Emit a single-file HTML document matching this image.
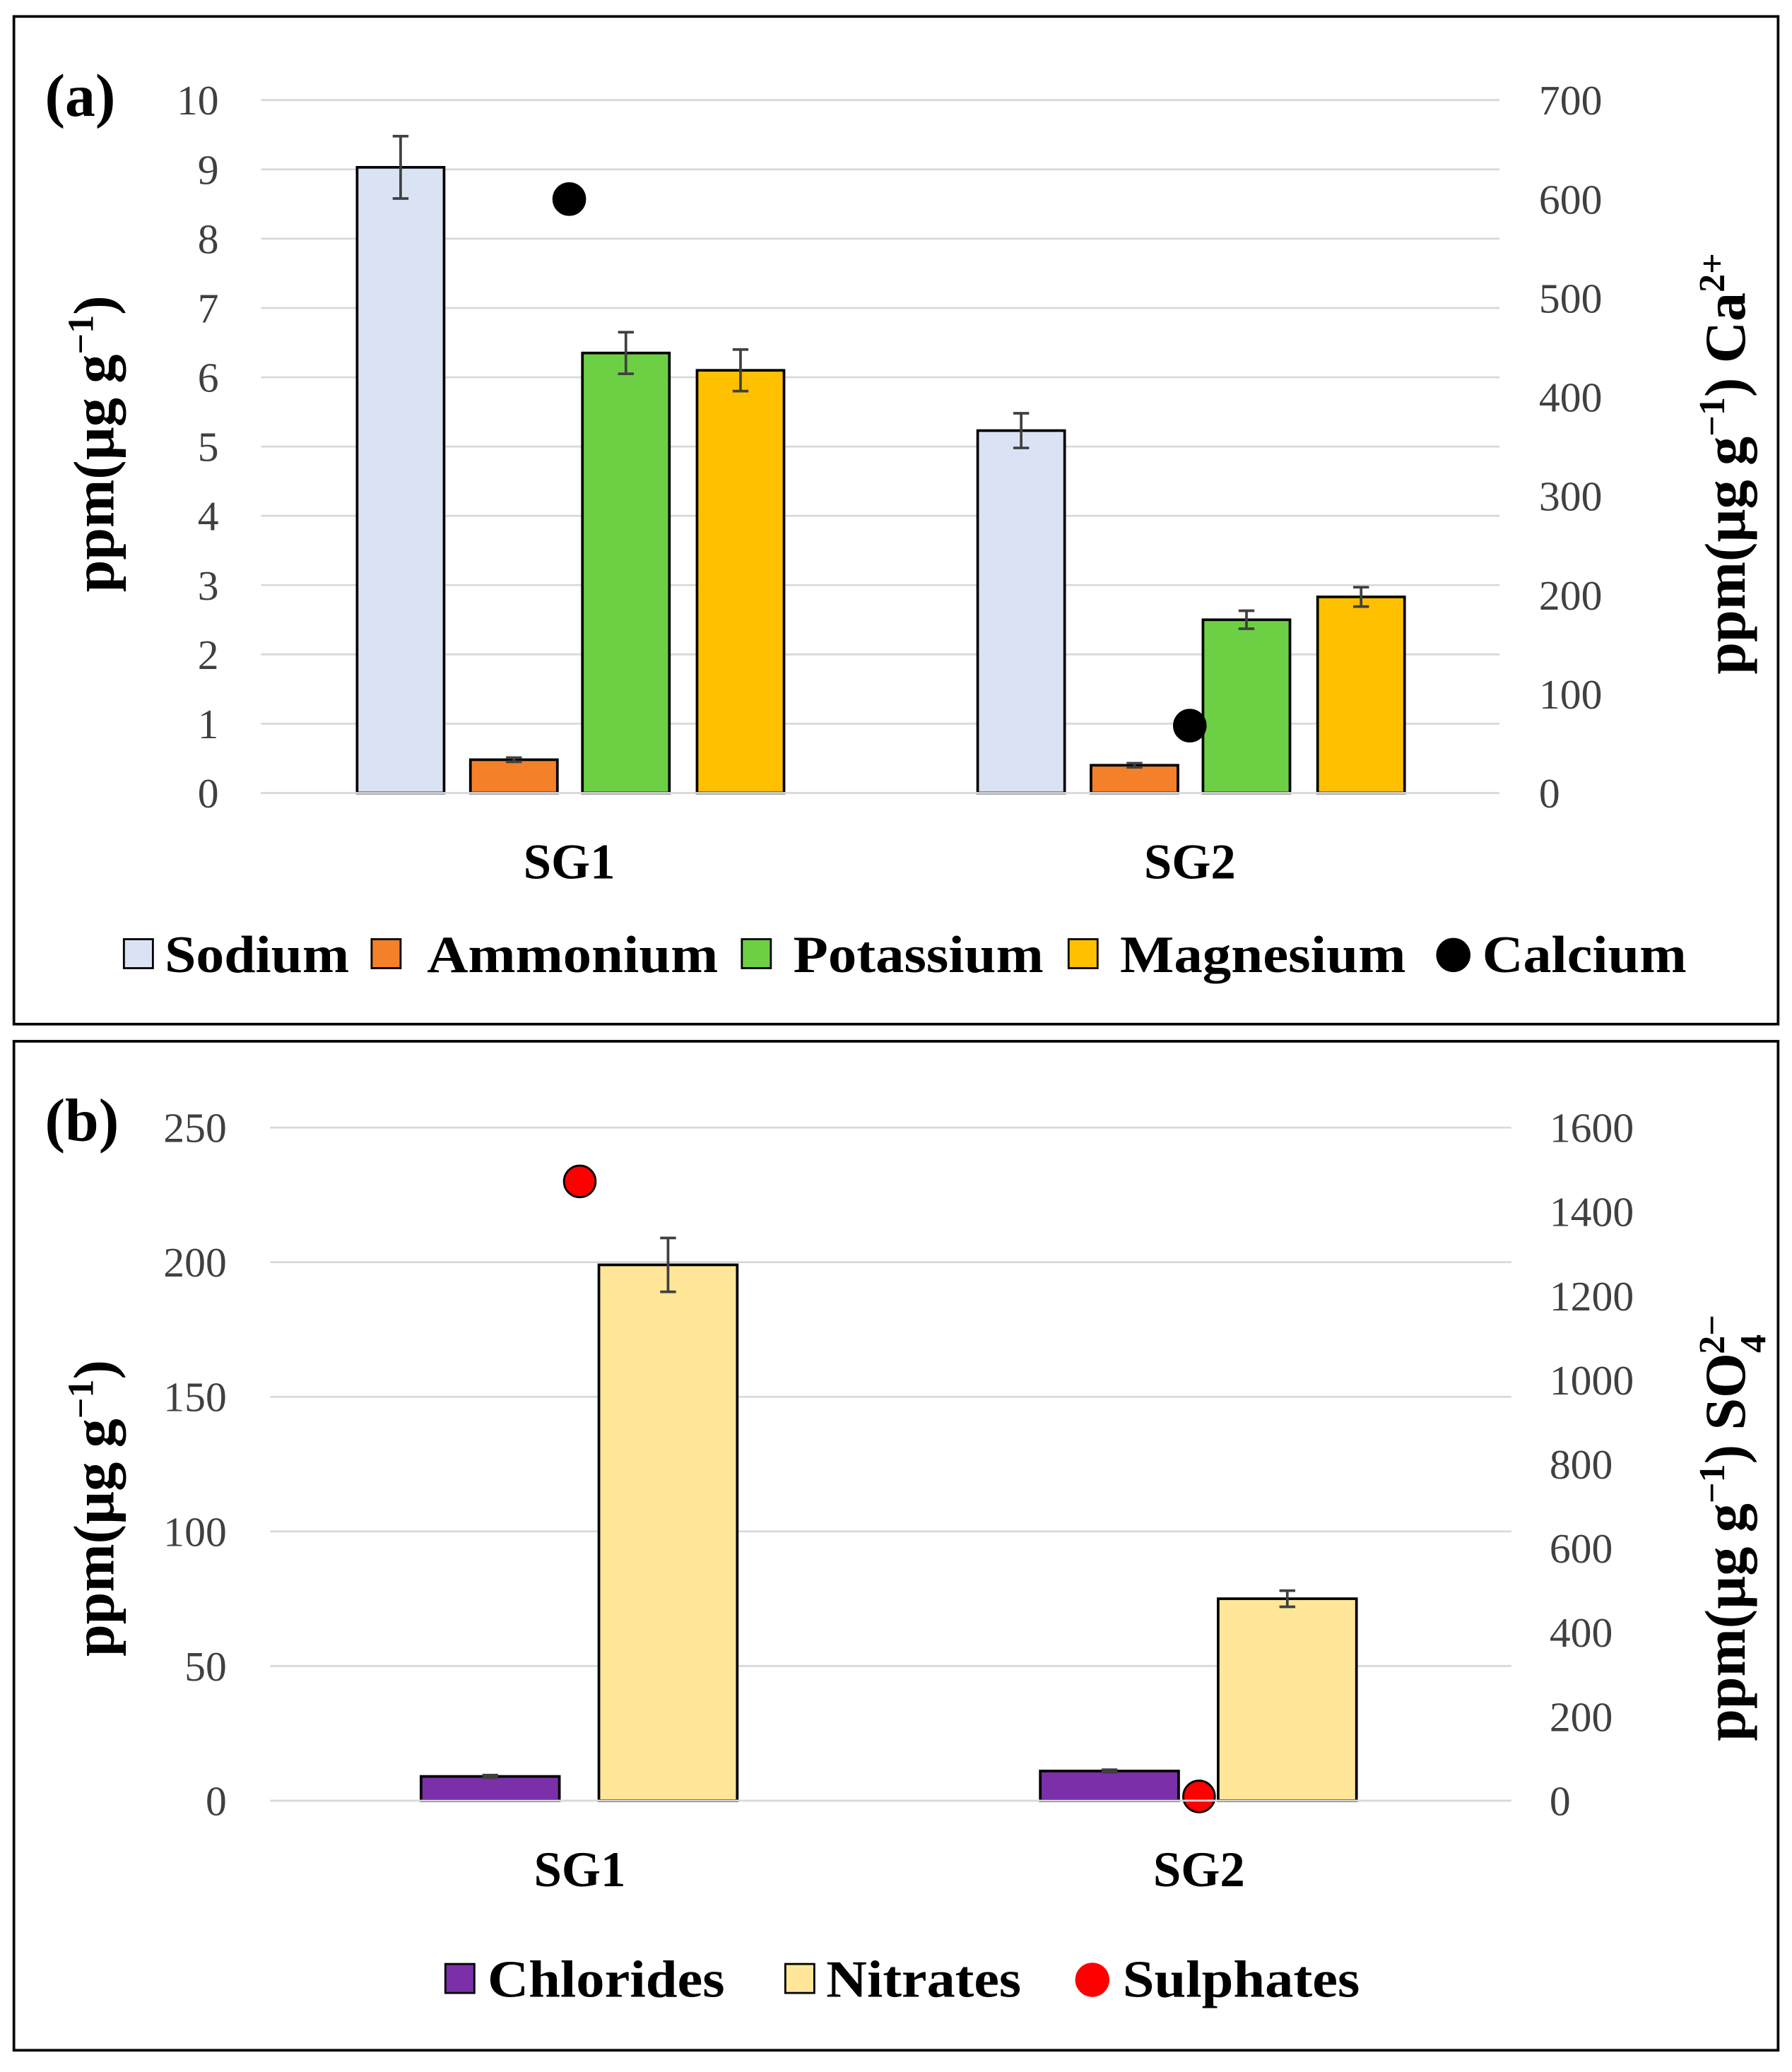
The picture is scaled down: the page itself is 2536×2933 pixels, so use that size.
<!DOCTYPE html>
<html><head><meta charset="utf-8"><style>html,body{margin:0;padding:0;background:#fff}svg{display:block}text{font-family:"Liberation Serif",serif}</style></head>
<body>
<svg id="chart" width="2536" height="2933" viewBox="0 0 1360 1573" xmlns="http://www.w3.org/2000/svg">
<rect x="10.5" y="12.5" width="1339" height="765" fill="none" stroke="#000" stroke-width="2"/>
<rect x="10.5" y="790.5" width="1339" height="766" fill="none" stroke="#000" stroke-width="2"/>
<text x="34" y="88" font-size="46" font-weight="bold">(a)</text>
<text x="34" y="866" font-size="46" font-weight="bold">(b)</text>
<g id="ga"></g><g id="gb"></g>
<text transform="translate(86,337) rotate(-90)" text-anchor="middle" font-size="44" font-weight="bold">ppm(µg g<tspan baseline-shift="super" font-size="28">−1</tspan>)</text>
<text transform="translate(1324,352) rotate(-90)" text-anchor="middle" font-size="44" font-weight="bold">ppm(µg g<tspan baseline-shift="super" font-size="28">−1</tspan>) Ca<tspan baseline-shift="super" font-size="28">2+</tspan></text>
<text transform="translate(86,1145) rotate(-90)" text-anchor="middle" font-size="44" font-weight="bold">ppm(µg g<tspan baseline-shift="super" font-size="28">−1</tspan>)</text>
<text transform="translate(1324,1160) rotate(-90)" text-anchor="middle" font-size="44" font-weight="bold">ppm(µg g<tspan baseline-shift="super" font-size="28">−1</tspan>) SO<tspan baseline-shift="sub" font-size="28">4</tspan><tspan baseline-shift="super" font-size="28" dx="-15">2−</tspan></text>
</svg>
<script>
const NS="http://www.w3.org/2000/svg";
const catsA=["SG1","SG2"];
const sodium=[9.03,5.23], sodiumErr=[0.45,0.25];
const ammonium=[0.48,0.40], ammoniumErr=[0.03,0.03];
const potassium=[6.35,2.50], potassiumErr=[0.30,0.13];
const magnesium=[6.10,2.83], magnesiumErr=[0.30,0.14];
const calcium=[600,68];
const ticksA=[0,1,2,3,4,5,6,7,8,9,10];
const ticksA2=[0,100,200,300,400,500,600,700];
const catsB=["SG1","SG2"];
const chlorides=[9,11], chloridesErr=[0.5,0.5];
const nitrates=[199,75], nitratesErr=[10,3];
const sulphates=[1472,10];
const ticksB=[0,50,100,150,200,250];
const ticksB2=[0,200,400,600,800,1000,1200,1400,1600];

function el(p,t,a){const e=document.createElementNS(NS,t);for(const k in a)e.setAttribute(k,a[k]);p.appendChild(e);return e;}
function panel(g,o){
  const y=v=>o.y0-(v/o.max)*(o.y0-o.y1);
  const y2=v=>o.y0-(v/o.max2)*(o.y0-o.y1);
  o.ticks.forEach(t=>{
    const l=el(g,'line',{x1:o.x0,x2:o.x1,y1:y(t),y2:y(t),stroke:'#d9d9d9','stroke-width':1.5});
    
    
    const tx=el(g,'text',{x:o.lx,y:y(t)+11,'text-anchor':'end','font-size':32,fill:'#404040'});tx.textContent=t;
    
    
  });
  o.ticks2.forEach(t=>{
    const tx=el(g,'text',{x:o.rx,y:y2(t)+11,'font-size':32,fill:'#404040'});tx.textContent=t;
    
    
  });
  o.cats.forEach((c,i)=>{
    const cx=o.cx[i];
    const tx=el(g,'text',{x:cx,y:o.y0+65,'text-anchor':'middle','font-size':38,'font-weight':'bold'});tx.textContent=c;
    
    
    o.series.forEach(s=>{
      const x=cx+s.off-o.bw/2, v=s.vals[i];
      const r=el(g,'rect',{x:x,y:y(v),width:o.bw,height:o.y0-y(v),fill:s.color,stroke:'#000','stroke-width':2});
      
      
      const e=s.err[i], bx=cx+s.off;
      const eb=el(g,'path',{d:`M${bx},${y(v+e)}V${y(v-e)}M${bx-6},${y(v+e)}H${bx+6}M${bx-6},${y(v-e)}H${bx+6}`,stroke:'#404040','stroke-width':2,fill:'none'});
      
      
    });
    const d=el(g,'circle',{cx:cx,cy:y2(o.dot.vals[i]),r:12,fill:o.dot.color,stroke:'#000','stroke-width':1.5});
    
    
  });
  const ax=el(g,'line',{x1:o.x0,x2:o.x1,y1:o.y0,y2:o.y0,stroke:'#d9d9d9','stroke-width':1.5});
  
  
  o.legend.forEach(L=>{
    let m;
    if(L.dot) m=el(g,'circle',{cx:L.x+12,cy:o.ly-13,r:13,fill:L.color});
    else m=el(g,'rect',{x:L.x,y:o.ly-25,width:22,height:22,fill:L.color,stroke:'#000','stroke-width':1.5});
    
    
    const t=el(g,'text',{x:L.tx,y:o.ly,'font-size':40,'font-weight':'bold',textLength:L.w,lengthAdjust:'spacingAndGlyphs'});t.textContent=L.name;
    
    
  });
}
panel(document.getElementById('ga'),{x0:198,x1:1138,y0:602,y1:76,max:10,max2:700,ticks:ticksA,ticks2:ticksA2,lx:166,rx:1168,
  cats:catsA,cx:[432,903],bw:66,
  series:[{name:'Sodium',vals:sodium,err:sodiumErr,color:'#dae3f3',off:-128},
          {name:'Ammonium',vals:ammonium,err:ammoniumErr,color:'#f4802a',off:-42},
          {name:'Potassium',vals:potassium,err:potassiumErr,color:'#6dd044',off:43},
          {name:'Magnesium',vals:magnesium,err:magnesiumErr,color:'#ffc000',off:130}],
  dot:{name:'Calcium',vals:calcium,color:'#000'},
  ly:738,legend:[{x:94,tx:125,w:140,name:'Sodium',color:'#dae3f3'},{x:282,tx:324,w:221,name:'Ammonium',color:'#f4802a'},{x:563,tx:602,w:190,name:'Potassium',color:'#6dd044'},{x:811,tx:850,w:217,name:'Magnesium',color:'#ffc000'},{x:1091,tx:1125,w:155,name:'Calcium',color:'#000',dot:1}]});
panel(document.getElementById('gb'),{x0:205,x1:1147,y0:1367,y1:856,max:250,max2:1600,ticks:ticksB,ticks2:ticksB2,lx:172,rx:1176,
  cats:catsB,cx:[440,910],bw:105,
  series:[{name:'Chlorides',vals:chlorides,err:chloridesErr,color:'#7b2fa8',off:-68},
          {name:'Nitrates',vals:nitrates,err:nitratesErr,color:'#ffe699',off:67}],
  dot:{name:'Sulphates',vals:sulphates,color:'#ff0000'},
  ly:1516,legend:[{x:338,tx:370,w:180,name:'Chlorides',color:'#7b2fa8'},{x:596,tx:627,w:148,name:'Nitrates',color:'#ffe699'},{x:817,tx:852,w:180,name:'Sulphates',color:'#ff0000',dot:1}]});
</script>
</body></html>
